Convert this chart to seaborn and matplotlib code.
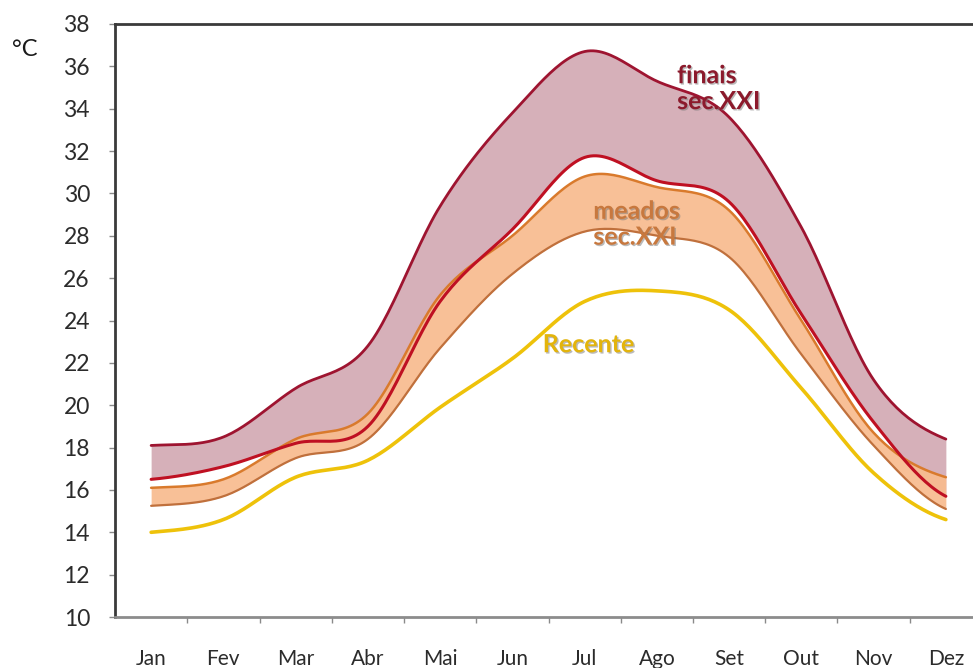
import numpy as np
import pandas as pd
import seaborn as sns
import matplotlib
matplotlib.use('Agg')
import matplotlib.pyplot as plt
from matplotlib import patheffects as pe

# monthly temperatures
months = ['Jan', 'Fev', 'Mar', 'Abr', 'Mai', 'Jun', 'Jul', 'Ago', 'Set', 'Out', 'Nov', 'Dez']
recente = [14.0, 14.6, 16.6, 17.4, 19.9, 22.2, 24.9, 25.4, 24.5, 20.8, 16.8, 14.6]
meados_min = [15.25, 15.7, 17.5, 18.4, 22.7, 26.2, 28.2, 28.0, 27.0, 22.4, 18.1, 15.1]
meados_max = [16.1, 16.5, 18.4, 19.6, 25.2, 28.0, 30.8, 30.3, 29.2, 24.0, 18.7, 16.6]
finais_min = [16.5, 17.1, 18.2, 19.0, 24.9, 28.3, 31.7, 30.6, 29.6, 24.3, 19.2, 15.7]
finais_max = [18.1, 18.5, 20.8, 22.8, 29.4, 33.8, 36.7, 35.3, 33.6, 28.4, 21.2, 18.4]
y_ticks = list(range(10, 39, 2))


def smooth(vals, n=25):
    # Catmull-Rom, like the smoothed lines of a spreadsheet chart
    v = np.asarray(vals, dtype=float)
    p = np.concatenate([[v[0]], v, [v[-1]]])
    xs, ys = [], []
    for i in range(len(v) - 1):
        p0, p1, p2, p3 = p[i], p[i + 1], p[i + 2], p[i + 3]
        t = np.linspace(0, 1, n, endpoint=False)
        y = 0.5 * (2 * p1 + (-p0 + p2) * t + (2 * p0 - 5 * p1 + 4 * p2 - p3) * t ** 2
                   + (-p0 + 3 * p1 - 3 * p2 + p3) * t ** 3)
        xs.append(i + t)
        ys.append(y)
    xs.append([len(v) - 1])
    ys.append([v[-1]])
    return np.concatenate(xs), np.concatenate(ys)


x, rec_s = smooth(recente)
_, mmin_s = smooth(meados_min)
_, mmax_s = smooth(meados_max)
_, fmin_s = smooth(finais_min)
_, fmax_s = smooth(finais_max)

df = pd.DataFrame({'x': x, 'recente': rec_s, 'meados_min': mmin_s, 'meados_max': mmax_s,
                   'finais_min': fmin_s, 'finais_max': fmax_s})

sns.set_style('white')
plt.rcParams['font.family'] = ['Lato', 'DejaVu Sans']

fig = plt.figure(figsize=(9.73, 6.68), dpi=100)
ax = fig.add_axes([115 / 973, 51 / 668, 867 / 973, 593 / 668])

ax.fill_between(df['x'], df['finais_min'], df['finais_max'], color='#d6b0b9', lw=0, zorder=1)
ax.fill_between(df['x'], df['meados_min'], df['meados_max'], color='#f8bb8e', lw=0, alpha=0.92, zorder=2)

sns.lineplot(data=df, x='x', y='meados_min', color='#c0703c', lw=1.6, sort=False, ax=ax, zorder=3)
sns.lineplot(data=df, x='x', y='meados_max', color='#d97a2c', lw=1.8, sort=False, ax=ax, zorder=3)
sns.lineplot(data=df, x='x', y='finais_min', color='#bf1022', lw=2.2, sort=False, ax=ax, zorder=4)
sns.lineplot(data=df, x='x', y='finais_max', color='#9e1430', lw=2.0, sort=False, ax=ax, zorder=4)
sns.lineplot(data=df, x='x', y='recente', color='#eec20a', lw=2.6, sort=False, ax=ax, zorder=4)

ax.set_xlim(-0.5, 11.5)
ax.set_ylim(10, 38)
ax.set_xlabel('')
ax.set_ylabel('')

ax.set_yticks(y_ticks)
ax.set_yticklabels([str(t) for t in y_ticks], fontsize=16.5, color='#2b2b2b')
ax.tick_params(axis='y', direction='out', length=4, width=1, color='#8a8a8a', pad=14, left=True)

ax.set_xticks(range(len(months)))
ax.set_xticklabels(months, fontsize=15, color='#2b2b2b')
ax.set_xticks(np.arange(0.5, 11.5, 1), minor=True)
ax.tick_params(axis='x', which='major', length=0, pad=23)
ax.tick_params(axis='x', which='minor', direction='out', length=4, width=1, color='#8a8a8a', bottom=True)

for side in ['left', 'top']:
    ax.spines[side].set_color('#3a3a3a')
    ax.spines[side].set_linewidth(2)
ax.spines['bottom'].set_color('#8c8c8c')
ax.spines['bottom'].set_linewidth(2)
ax.spines['right'].set_visible(False)

fig.text(25 / 973, 1 - 49 / 668, '°C', fontsize=17, color='#1a1a1a', ha='center', va='center')

glow = [pe.withSimplePatchShadow(offset=(1, -1), shadow_rgbFace='#777777', alpha=0.5)]
ax.text(7.28, 36.1, 'finais\nsec.XXI', color='#8c1a2c', fontsize=18, fontweight='bold',
        ha='left', va='top', linespacing=1.15, zorder=6, path_effects=glow)
ax.text(6.12, 29.7, 'meados\nsec.XXI', color='#c8783e', fontsize=18, fontweight='bold',
        ha='left', va='top', linespacing=1.15, zorder=6, path_effects=glow)
ax.text(5.42, 23.4, 'Recente', color='#e3b40c', fontsize=18, fontweight='bold',
        ha='left', va='top', zorder=6, path_effects=glow)

fig.savefig('out.png', dpi=100)
